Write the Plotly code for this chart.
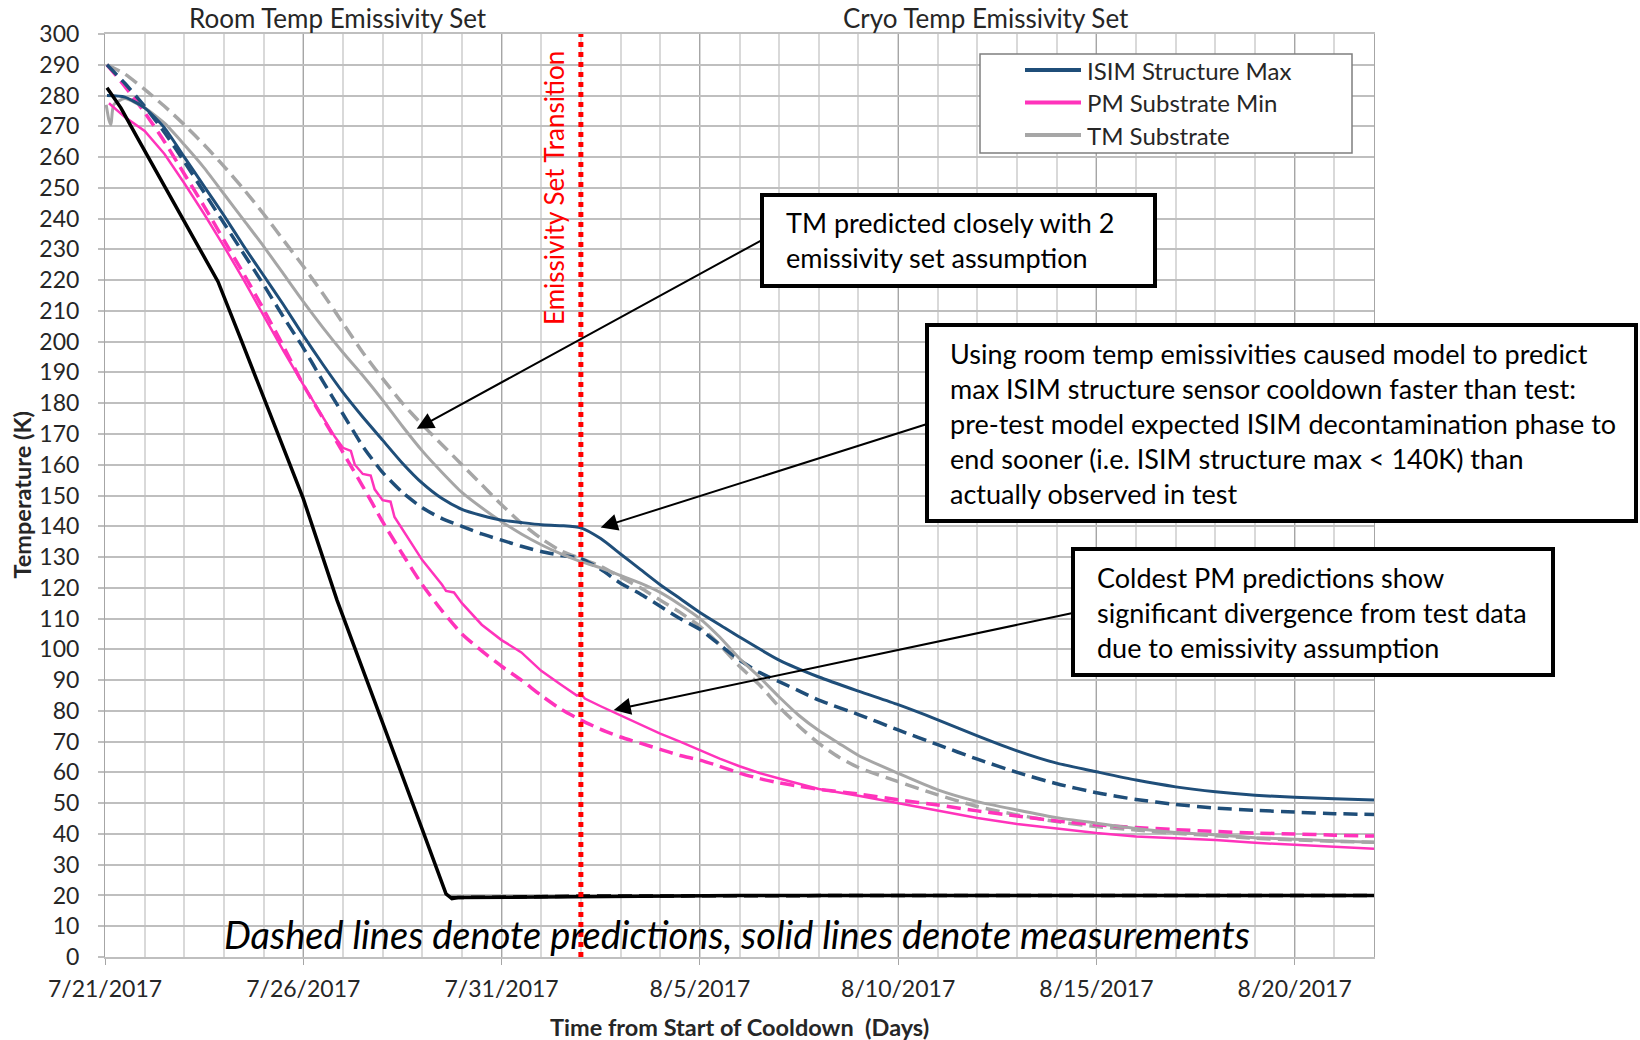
import plotly.graph_objects as go

# ---------------- data (days since start of cooldown, 7/21/2017) ----------------
tick_days = [0, 5, 10, 15, 20, 25, 30]
tick_labels = ["7/21/2017", "7/26/2017", "7/31/2017", "8/5/2017",
               "8/10/2017", "8/15/2017", "8/20/2017"]

series_names = ["ISIM Structure Max", "PM Substrate Min", "TM Substrate"]

# ISIM structure max - measured
isim_meas_days = [0.05, 0.5, 1, 1.5, 2, 2.5, 3, 3.5, 4, 4.5, 5, 5.5, 6, 6.5, 7, 7.5, 8, 8.5,
                  9, 9.5, 10, 10.5, 11, 11.5, 12, 12.5, 13, 13.5, 14, 14.5, 15, 15.5, 16,
                  17, 18, 19, 20, 21, 22, 23, 24, 25, 26, 27, 28, 29, 30, 31, 32]
isim_meas_temp = [280, 279.5, 276, 269.5, 260, 250.5, 241, 231, 221.5, 212, 202, 192.5,
                  183.5, 175.5, 168, 160.5, 154, 149, 145.5, 143.5, 142, 141.2, 140.5,
                  140.2, 139.5, 136, 131, 126, 121, 116.5, 112, 108, 104,
                  96.5, 91, 86.4, 82, 77.1, 71.9, 67, 63, 60.2, 57.5, 55.3, 53.7,
                  52.6, 51.9, 51.4, 51.0]

# ISIM structure max - predicted
isim_pred_days = [0.05, 0.5, 1, 1.5, 2, 2.5, 3, 3.5, 4, 4.5, 5, 5.5, 6, 6.5, 7, 7.5, 8, 8.5,
                  9, 9.5, 10, 10.5, 11, 11.5, 12, 12.5, 13, 13.5, 14, 14.5, 15, 15.5, 16,
                  16.5, 17, 17.5, 18, 19, 20, 21, 22, 23, 24, 25, 26, 27, 28, 29, 30, 31, 32]
isim_pred_temp = [290, 284, 276.5, 268, 258.5, 248.5, 238.5, 228.5, 218.5, 208, 198, 187,
                  176.5, 166, 157.5, 151, 146, 142.5, 140, 137.5, 135.5, 133.5, 131.8,
                  130.5, 129.5, 126, 121.5, 118, 114, 110, 106.5, 101.5, 96.5,
                  92.5, 89.5, 86.5, 83.5, 78.8, 73.8, 69, 64.3, 60, 56.3, 53.4, 51.2,
                  49.6, 48.4, 47.7, 47.1, 46.6, 46.3]

# PM substrate min - measured
pm_meas_days = [0.1, 0.5, 1, 1.5, 2, 2.5, 3, 3.5, 4, 4.5, 5, 5.5, 5.8, 6.0, 6.2, 6.3, 6.5,
                6.7, 6.8, 7.0, 7.2, 7.3, 7.5, 8.0, 8.5, 8.6, 8.8, 9.0, 9.5, 10, 10.5, 11,
                11.5, 11.9, 12.0, 12.1, 12.5, 13, 13.5, 14, 14.5, 15, 15.5, 16, 16.5, 17,
                17.5, 18, 19, 20, 21, 22, 23, 24, 25, 26, 27, 28, 29, 30, 31, 32]
pm_meas_temp = [277.5, 273, 268.5, 261, 251.5, 241.5, 231, 220, 208.5, 197, 186, 175.5,
                169, 165.5, 164.5, 160, 157, 156.5, 152, 148.5, 148, 143, 139, 129, 121,
                119, 118.5, 115, 108, 103, 99, 93, 88.5, 85, 85.5, 84, 81.5, 78.5, 75.5,
                72.6, 70, 67.2, 64.5, 62, 59.8, 58, 56.2, 54.6, 52.4, 50, 47.8, 45.2,
                43.2, 41.8, 40.3, 39.2, 38.6, 38, 37.1, 36.4, 35.8, 35.2]

# PM substrate min - predicted
pm_pred_days = [0.05, 0.5, 1, 1.5, 2, 2.5, 3, 3.5, 4, 4.5, 5, 5.5, 6, 6.5, 7, 7.5, 8, 8.5,
                9, 9.5, 10, 10.5, 11, 11.5, 12, 12.5, 13, 13.5, 14, 14.5, 15, 15.5, 16,
                16.5, 17, 17.5, 18, 19, 20, 21, 22, 23, 24, 25, 26, 27, 28, 29, 30, 31, 32]
pm_pred_temp = [290, 283, 274.5, 265, 254.5, 244, 233, 222, 210.5, 198.5, 186, 175, 164,
                153, 141.5, 131, 121, 112.5, 105, 99.5, 94.5, 90, 85, 80.5, 77, 74, 71.5,
                69.5, 67.5, 65.5, 64, 62, 59.8, 58, 56.6, 55.5, 54.5, 53, 51.1, 49.4,
                47.5, 45.8, 44.2, 43, 42.1, 41.4, 40.8, 40.3, 40, 39.6, 39.3]

# TM substrate - measured
tm_meas_days = [0.03, 0.1, 0.15, 0.22, 0.5, 1, 1.5, 2, 2.5, 3, 3.5, 4, 4.5, 5, 5.5, 6, 6.5,
                7, 7.5, 8, 8.5, 9, 9.5, 10, 10.5, 11, 11.5, 12, 12.5, 13, 13.5, 14, 14.5,
                15, 15.5, 16, 16.5, 17, 17.5, 18, 18.5, 19, 20, 21, 22, 23, 24, 25, 26,
                27, 28, 29, 30, 31, 32]
tm_meas_temp = [277, 272, 270.5, 277, 279, 276, 271, 264, 256.5, 248, 239.5, 231, 222,
                213, 204.5, 196.5, 189, 181, 172.5, 164.5, 157.5, 151, 146, 141.5, 137.5,
                134, 131, 128.5, 126.5, 124, 121.5, 118.5, 114.5, 110, 104, 97, 91, 84.5,
                78.5, 73.6, 69.5, 65.5, 59.7, 54.3, 50.5, 47.8, 45.3, 43.5, 41.8, 40.5,
                39.7, 38.8, 38.3, 37.7, 37.3]

# TM substrate - predicted
tm_pred_days = [0.05, 0.5, 1, 1.5, 2, 2.5, 3, 3.5, 4, 4.5, 5, 5.5, 6, 6.5, 7, 7.5, 8, 8.5,
                9, 9.5, 10, 10.5, 11, 11.5, 12, 12.5, 13, 13.5, 14, 14.5, 15, 15.5, 16,
                16.5, 17, 17.5, 18, 18.5, 19, 20, 21, 22, 23, 24, 25, 26, 27, 28, 29, 30,
                31, 32]
tm_pred_temp = [290, 287, 282, 276.5, 270.5, 264, 257, 249.5, 241.5, 233, 224.5, 215.5,
                206, 196.5, 188, 180, 173, 166.5, 160, 153.5, 147, 141, 136, 132, 129.5,
                127, 123.5, 120, 116, 112, 107.5, 101.5, 94.5, 88.5, 81.3, 75, 69.4, 65,
                61.6, 57, 52.7, 48.9, 46.2, 44, 42.4, 41.3, 40.2, 39.4, 38.6, 38.1, 37.6,
                37.3]

# Shroud / helium boundary - measured and predicted
shroud_meas_days = [0.05, 0.4, 0.85, 1.43, 2.0, 2.5, 2.85, 3.45, 4.1, 5.0, 5.85, 6.9, 7.5,
                    8.0, 8.6, 8.75, 8.9, 10, 12, 16, 20, 24, 28, 32]
shroud_meas_temp = [282.5, 276, 265.5, 252, 239, 227.5, 219.5, 200, 178.5, 149, 116, 80, 59,
                    41.5, 20.5, 19, 19.3, 19.4, 19.8, 20, 20, 20, 20, 20]
shroud_pred_days = [8.7, 12, 20, 32]
shroud_pred_temp = [19.3, 19.8, 20, 20]

transition_day = 12

# callout arrow tips (days, K)
tm_callout_tip = (7.86, 171.7)
isim_callout_tip = (12.5, 139.6)
pm_callout_tip = (12.83, 80.3)

# ---------------- styling ----------------
FONT = "Lato, 'Open Sans', sans-serif"
TXT = "#262626"
BLUE = "#1F4E79"
PINK = "#FF33BB"
GRAY = "#A6A6A6"
DASH = "14px,7px"

# plot-area geometry in pixels (for positioning text and boxes)
L, R, T, B = 105, 1374, 34, 957


def px(x):
    return (x - L) / (R - L)


def py(y):
    return (B - y) / (B - T)


def to_day(x):
    return (x - L) / (R - L) * 32


def to_k(y):
    return (B - y) / (B - T) * 300


fig = go.Figure()


def add_line(days, temps, color, width, dash=None, name=None, shape="spline"):
    fig.add_trace(go.Scatter(
        x=days, y=temps, mode="lines", name=name, showlegend=False,
        line=dict(color=color, width=width, dash=dash, shape=shape,
                  smoothing=0.6 if shape == "spline" else None),
        hoverinfo="skip",
    ))


add_line(tm_pred_days, tm_pred_temp, GRAY, 3.5, DASH)
add_line(pm_pred_days, pm_pred_temp, PINK, 3.5, DASH)
add_line(isim_pred_days, isim_pred_temp, BLUE, 3.5, DASH)
add_line(tm_meas_days, tm_meas_temp, GRAY, 3, name=series_names[2])
add_line(pm_meas_days, pm_meas_temp, PINK, 2.5, name=series_names[1], shape="linear")
add_line(isim_meas_days, isim_meas_temp, BLUE, 3, name=series_names[0])
add_line(shroud_pred_days, shroud_pred_temp, "#000000", 3.5, DASH, shape="linear")
add_line(shroud_meas_days, shroud_meas_temp, "#000000", 3.5, shape="linear")

shapes = [
    # emissivity-set transition marker
    dict(type="line", xref="x", yref="paper", x0=transition_day, x1=transition_day,
         y0=0, y1=1, line=dict(color="#FF0000", width=5, dash="dot"), layer="above"),
]

# callout boxes (pixel rectangles -> paper coordinates)
boxes = [(762, 195, 1155, 286), (927, 325, 1636, 521), (1073, 549, 1553, 675)]
for x0, y0, x1, y1 in boxes:
    shapes.append(dict(type="rect", xref="paper", yref="paper",
                       x0=px(x0), x1=px(x1), y0=py(y1), y1=py(y0),
                       line=dict(color="#000000", width=4), fillcolor="#FFFFFF",
                       layer="above"))

annotations = []

# legend box with line samples
shapes.append(dict(type="rect", xref="paper", yref="paper",
                   x0=px(980), x1=px(1352), y0=py(153), y1=py(54),
                   line=dict(color="#7F7F7F", width=1.5), fillcolor="#FFFFFF",
                   layer="above"))
for name, color, ly in zip(series_names, [BLUE, PINK, GRAY], [70, 102.5, 135]):
    shapes.append(dict(type="line", xref="paper", yref="paper",
                       x0=px(1025), x1=px(1081), y0=py(ly), y1=py(ly),
                       line=dict(color=color, width=4), layer="above"))
    annotations.append(dict(x=px(1085), y=py(ly), xref="paper", yref="paper",
                            xanchor="left", yanchor="middle", showarrow=False,
                            font=dict(family=FONT, size=24, color=TXT), text=name))

# arrows from boxes to the curves
arrow_tails = [(762, 240), (927, 424), (1073, 613)]
for (tx, ty), tip in zip(arrow_tails, [tm_callout_tip, isim_callout_tip, pm_callout_tip]):
    annotations.append(dict(
        x=tip[0], y=tip[1], xref="x", yref="y",
        ax=to_day(tx), ay=to_k(ty), axref="x", ayref="y",
        text="", showarrow=True, arrowhead=2, arrowsize=1.7, arrowwidth=2,
        arrowcolor="#000000", standoff=0,
    ))

callout_font = dict(family=FONT, size=27, color="#000000")


def label(x, y, text, size, color=TXT, angle=0, xanchor="center"):
    return dict(x=x, y=y, xref="paper", yref="paper", xanchor=xanchor,
                yanchor="middle", align="left", showarrow=False, textangle=angle,
                font=dict(family=FONT, size=size, color=color), text=text)


annotations += [
    label(px(784), py(240.5), "TM predicted closely with 2<br>emissivity set assumption",
          27, "#000000", xanchor="left"),
    label(px(948), py(423),
          "Using room temp emissivities caused model to predict<br>"
          "max ISIM structure sensor cooldown faster than test:<br>"
          "pre-test model expected ISIM decontamination phase to<br>"
          "end sooner (i.e. ISIM structure max &lt; 140K) than<br>"
          "actually observed in test", 27, "#000000", xanchor="left"),
    label(px(1095), py(612),
          "Coldest PM predictions show<br>significant divergence from test data<br>"
          "due to emissivity assumption", 27, "#000000", xanchor="left"),
    # transition label
    label(px(554), py(188), "Emissivity Set Transition", 26, "#FF0000", angle=-90),
    # region labels
    label(px(338), py(18), "Room Temp Emissivity Set", 26),
    label(px(986), py(18), "Cryo Temp Emissivity Set", 26),
    # note
    label(px(737), py(934),
          "<i>Dashed lines denote predictions, solid lines denote measurements</i>",
          38, "#000000"),
    # axis titles
    label(0.5, py(1027), "<b>Time from Start of Cooldown  (Days)</b>", 23.5),
    label(px(21), 0.5, "<b>Temperature (K)</b>", 23.5, angle=-90),
]

fig.update_layout(
    width=1640, height=1040,
    margin=dict(l=L, r=1640 - R, t=T, b=1040 - B, pad=0),
    paper_bgcolor="#FFFFFF", plot_bgcolor="#FFFFFF",
    font=dict(family=FONT, size=23, color=TXT),
    showlegend=False,
    shapes=shapes, annotations=annotations,
    xaxis=dict(range=[0, 32], tickmode="array", tickvals=tick_days, ticktext=tick_labels,
               ticks="outside", ticklen=6, tickcolor="#A6A6A6", tickwidth=1,
               ticklabelstandoff=4,
               showgrid=True, gridcolor="#A6A6A6", gridwidth=1,
               minor=dict(tickmode="linear", tick0=0, dtick=1, showgrid=True,
                          gridcolor="#D9D9D9", gridwidth=2),
               showline=True, linecolor="#BFBFBF", linewidth=2, mirror=True,
               zeroline=False, tickfont=dict(family=FONT, size=23, color=TXT)),
    yaxis=dict(range=[0, 300], tickmode="linear", tick0=0, dtick=10,
               ticks="outside", ticklen=6, tickcolor="#BFBFBF", tickwidth=2,
               ticklabelstandoff=14,
               showgrid=True, gridcolor="#BFBFBF", gridwidth=2,
               showline=True, linecolor="#A6A6A6", linewidth=1, mirror=True,
               zeroline=False, tickfont=dict(family=FONT, size=23, color=TXT)),
)

fig.write_html("out.html")
